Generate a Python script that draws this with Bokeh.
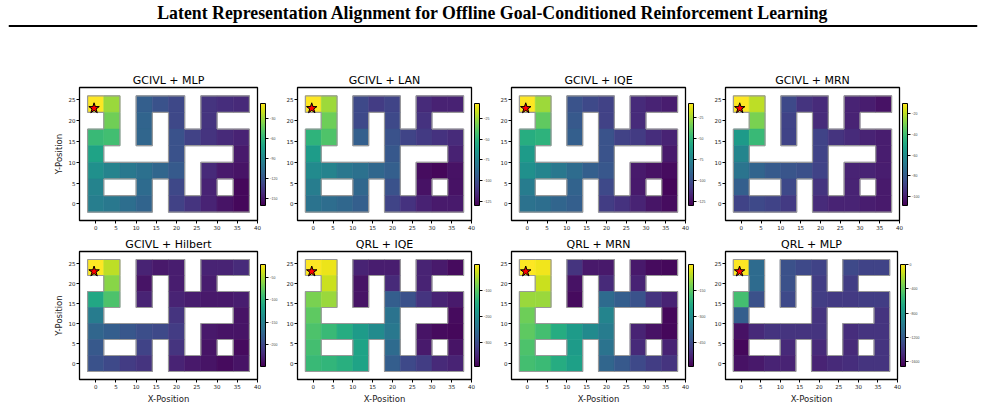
from bokeh.plotting import figure
from bokeh.models import (LinearColorMapper, ColorBar, FixedTicker, ColumnDataSource,
                          Span, Range1d)
from bokeh.layouts import column, row
from bokeh.palettes import Viridis256
from bokeh.embed import file_html
from bokeh.resources import INLINE

N = None
CELL = 4
X_RANGE = (-4, 40)
Y_RANGE = (-4, 28)
X_TICKS = [0, 5, 10, 15, 20, 25, 30, 35, 40]
Y_TICKS = [0, 5, 10, 15, 20, 25]
GOAL_X = -0.4
GOAL_Y = 23.0

PAGE_TITLE = "Latent Representation Alignment for Offline Goal-Conditioned Reinforcement Learning"

# maze layout, top row (y=24) first; W = wall
WALLS = [
    "..W...W...",
    "W.W.W.W.WW",
    "..W.W.....",
    ".WWWW.WWW.",
    "......W...",
    ".WW.W.W.W.",
    "....W.....",
]

TITLES = ["GCIVL + MLP", "GCIVL + LAN", "GCIVL + IQE", "GCIVL + MRN",
          "GCIVL + Hilbert", "QRL + IQE", "QRL + MRN", "QRL + MLP"]

# estimated values per maze cell (top row first)
V_GCIVL_MLP = [
    [-8, -31, N, -114, -122, -127, N, -137, -140, -142],
    [N, -41, N, -111, N, -127, N, -137, N, N],
    [-57, -54, N, -110, N, -122, -130, -137, -142, -145],
    [-72, N, N, N, N, -122, N, N, N, -149],
    [-84, -92, -99, -104, -110, -117, N, -142, -149, -152],
    [-92, N, N, -107, N, -127, N, -145, N, -157],
    [-95, -99, -105, -111, N, -130, -137, -145, -152, -157],
]
V_GCIVL_LAN = [
    [-7, -25, N, -103, -108, -105, N, -115, -118, -118],
    [N, -34, N, -103, N, -103, N, -112, N, N],
    [-50, -41, N, -93, N, -99, -105, -109, -112, -115],
    [-62, N, N, N, N, -96, N, N, N, -118],
    [-71, -75, -81, -84, -89, -93, N, -126, -128, -124],
    [-78, N, N, -89, N, -99, N, -124, N, -124],
    [-83, -86, -89, -93, N, -105, -112, -118, -121, -121],
]
V_GCIVL_IQE = [
    [-8, -26, N, -99, -103, -106, N, -115, -118, -120],
    [N, -38, N, -96, N, -106, N, -115, N, N],
    [-54, -51, N, -93, N, -99, -106, -109, -114, -118],
    [-63, N, N, N, N, -99, N, N, N, -121],
    [-69, -75, -81, -87, -93, -97, N, -121, -124, -126],
    [-79, N, N, -91, N, -103, N, -121, N, -128],
    [-84, -86, -90, -93, N, -108, -112, -118, -123, -126],
]
V_GCIVL_MRN = [
    [-10, -20, N, -87, -94, -97, N, -99, -101, -104],
    [N, -30, N, -89, N, -97, N, -99, N, N],
    [-55, -42, N, -89, N, -89, -94, -97, -99, -101],
    [-64, N, N, N, N, -89, N, N, N, -101],
    [-71, -77, -81, -83, -85, -89, N, -99, -99, -101],
    [-79, N, N, -87, N, -94, N, -99, N, -102],
    [-89, -87, -89, -92, N, -97, -99, -99, -101, -102],
]
V_GCIVL_HILBERT = [
    [-20, -43, N, -227, -234, -232, N, -227, -227, -222],
    [N, -61, N, -238, N, -232, N, -232, N, N],
    [-112, -84, N, -227, N, -227, -232, -234, -234, -232],
    [-153, N, N, N, N, -215, N, N, N, -238],
    [-174, -181, -188, -195, -199, -209, N, -234, -238, -238],
    [-186, N, N, -204, N, -215, N, -238, N, -243],
    [-192, -199, -209, -215, N, -227, -234, -238, -243, -238],
]
V_QRL_IQE = [
    [0, -12, N, -354, -362, -362, N, -354, -365, -381],
    [N, -31, N, -373, N, -346, N, -354, N, N],
    [-79, -59, N, -373, N, -275, -295, -334, -354, -365],
    [-98, N, N, N, N, -244, N, N, N, -381],
    [-110, -126, -149, -177, -204, -236, N, -373, -381, -385],
    [-118, N, N, -165, N, -255, N, -365, N, -373],
    [-126, -134, -145, -165, N, -275, -307, -322, -346, -354],
]
V_QRL_MRN = [
    [0, -12, N, -500, -547, -547, N, -547, -570, -576],
    [N, -47, N, -559, N, -517, N, -529, N, N],
    [-88, -88, N, -570, N, -382, -412, -441, -500, -529],
    [-129, N, N, N, N, -323, N, N, N, -576],
    [-147, -176, -223, -265, -306, -341, N, -529, -559, -576],
    [-165, N, N, -265, N, -365, N, -517, N, -529],
    [-176, -188, -223, -253, N, -394, -423, -459, -482, -500],
]
V_QRL_MLP = [
    [0, -1093, N, -1262, -1312, -1346, N, -1312, -1346, -1346],
    [N, -1093, N, -1262, N, -1379, N, -1379, N, N],
    [-505, -1262, N, -1312, N, -1379, -1396, -1396, -1379, -1379],
    [-1177, N, N, N, N, -1430, N, N, N, -1430],
    [-1598, -1480, -1430, -1430, -1430, -1430, N, -1463, -1430, -1430],
    [-1648, N, N, -1480, N, -1480, N, -1480, N, -1430],
    [-1598, -1564, -1514, -1514, N, -1514, -1480, -1463, -1430, -1430],
]
GRIDS = [V_GCIVL_MLP, V_GCIVL_LAN, V_GCIVL_IQE, V_GCIVL_MRN,
         V_GCIVL_HILBERT, V_QRL_IQE, V_QRL_MRN, V_QRL_MLP]

V_LOW = [-160, -130, -130, -109, -250, -393, -588, -1682]
V_HIGH = [-8, -7, -8, -10, -20, 0, 0, 0]
CB_TICKS = [
    [-150, -120, -90, -60, -30],
    [-125, -100, -75, -50, -25],
    [-125, -100, -75, -50, -25],
    [-100, -80, -60, -40, -20],
    [-200, -150, -100, -50],
    [-300, -200, -100],
    [-450, -300, -150],
    [-1600, -1200, -800, -400, 0],
]

NR = len(WALLS)
NC = len(WALLS[0])


def is_free(r, c):
    return 0 <= r < NR and 0 <= c < NC and WALLS[r][c] != "W"


# maze edge segments (between free cells and walls / outside)
SEG = dict(x0=[], y0=[], x1=[], y1=[])
for r in range(NR):
    for c in range(NC):
        if not is_free(r, c):
            continue
        cx = c * CELL
        cy = (NR - 1 - r) * CELL
        h = CELL / 2
        if not is_free(r - 1, c):
            SEG["x0"].append(cx - h); SEG["y0"].append(cy + h); SEG["x1"].append(cx + h); SEG["y1"].append(cy + h)
        if not is_free(r + 1, c):
            SEG["x0"].append(cx - h); SEG["y0"].append(cy - h); SEG["x1"].append(cx + h); SEG["y1"].append(cy - h)
        if not is_free(r, c - 1):
            SEG["x0"].append(cx - h); SEG["y0"].append(cy - h); SEG["x1"].append(cx - h); SEG["y1"].append(cy + h)
        if not is_free(r, c + 1):
            SEG["x0"].append(cx + h); SEG["y0"].append(cy - h); SEG["x1"].append(cx + h); SEG["y1"].append(cy + h)

FRAME_W = 183
FRAME_H = 133
BR = 21
BL = 10
COL1_BL = 79


def make_panel(k):
    rr, cc = divmod(k, 4)
    first_col = cc == 0
    bottom_row = rr == 1
    bl = COL1_BL if first_col else BL
    bt = 59 if rr == 0 else 14
    bb = 24 if bottom_row else 15
    width = bl + FRAME_W + BR
    height = bt + FRAME_H + bb
    p = figure(width=width, height=height, x_range=Range1d(*X_RANGE), y_range=Range1d(*Y_RANGE),
               output_backend="svg", toolbar_location=None, title=TITLES[k],
               min_border_left=bl, min_border_right=BR, min_border_top=bt, min_border_bottom=bb)
    p.title.text_font = "DejaVu Sans"
    p.title.text_font_size = "11px"
    p.title.text_font_style = "normal"
    p.title.text_color = "black"
    p.title.align = "center"
    p.title.standoff = 1
    p.grid.visible = False
    p.outline_line_color = "black"
    p.outline_line_width = 1.3
    p.background_fill_color = "white"

    grid = GRIDS[k]
    xs, ys, vs = [], [], []
    for r in range(NR):
        for c in range(NC):
            v = grid[r][c]
            if v is None:
                continue
            xs.append(c * CELL)
            ys.append((NR - 1 - r) * CELL)
            vs.append(v)
    mapper = LinearColorMapper(palette=Viridis256, low=V_LOW[k], high=V_HIGH[k])
    src = ColumnDataSource(dict(x=xs, y=ys, v=vs))
    p.rect(x="x", y="y", width=CELL, height=CELL, source=src,
           fill_color={"field": "v", "transform": mapper},
           line_color={"field": "v", "transform": mapper}, line_width=0.6)
    p.segment(x0="x0", y0="y0", x1="x1", y1="y1", source=ColumnDataSource(SEG),
              line_color="#999999", line_width=1.2)
    p.scatter(x=[GOAL_X], y=[GOAL_Y], marker="star", size=11, fill_color="red",
              line_color="black", line_width=1)

    for ax, ticks in ((p.xaxis, X_TICKS), (p.yaxis, Y_TICKS)):
        ax.ticker = FixedTicker(ticks=ticks)
        ax.major_label_text_font_size = "5.5px"
        ax.major_label_text_font = "DejaVu Sans"
        ax.major_label_text_color = "#222222"
        ax.major_tick_out = 3
        ax.major_tick_in = 0
        ax.major_tick_line_color = "black"
        ax.minor_tick_line_color = None
        ax.axis_line_color = None
        ax.major_label_standoff = 1
        ax.axis_label_text_font = "DejaVu Sans"
        ax.axis_label_text_font_size = "8.5px"
        ax.axis_label_text_font_style = "normal"
        ax.axis_label_text_color = "#222222"
        ax.axis_label_standoff = 2
    if bottom_row:
        p.xaxis.axis_label = "X-Position"
    if first_col:
        p.yaxis.axis_label = "Y-Position"

    cb = ColorBar(color_mapper=mapper, ticker=FixedTicker(ticks=CB_TICKS[k]), width=5, height=102,
                  location="center_left", padding=3, margin=0, major_tick_out=3, major_tick_in=0,
                  major_tick_line_color="black", major_tick_line_width=1,
                  major_label_text_font_size="3.5px",
                  major_label_text_color="#444444", label_standoff=1,
                  bar_line_color="black", bar_line_width=1,
                  background_fill_color=None, border_line_color=None)
    p.add_layout(cb, "right")
    return p


panels = [make_panel(k) for k in range(8)]

header = figure(width=985, height=28, x_range=Range1d(0, 1), y_range=Range1d(0, 1),
                output_backend="svg", toolbar_location=None, title=PAGE_TITLE,
                min_border_left=8, min_border_right=8, min_border_top=0, min_border_bottom=0)
header.axis.visible = False
header.grid.visible = False
header.outline_line_color = None
header.title.text_font = "Liberation Serif"
header.title.text_font_size = "17.8px"
header.title.text_font_style = "bold"
header.title.text_color = "black"
header.title.align = "center"
header.title.standoff = 1
header.add_layout(Span(location=0.5, dimension="width", line_color="black", line_width=2))

layout = column(header, row(*panels[:4]), row(*panels[4:]))
open("out.html", "w").write(file_html(layout, INLINE))
